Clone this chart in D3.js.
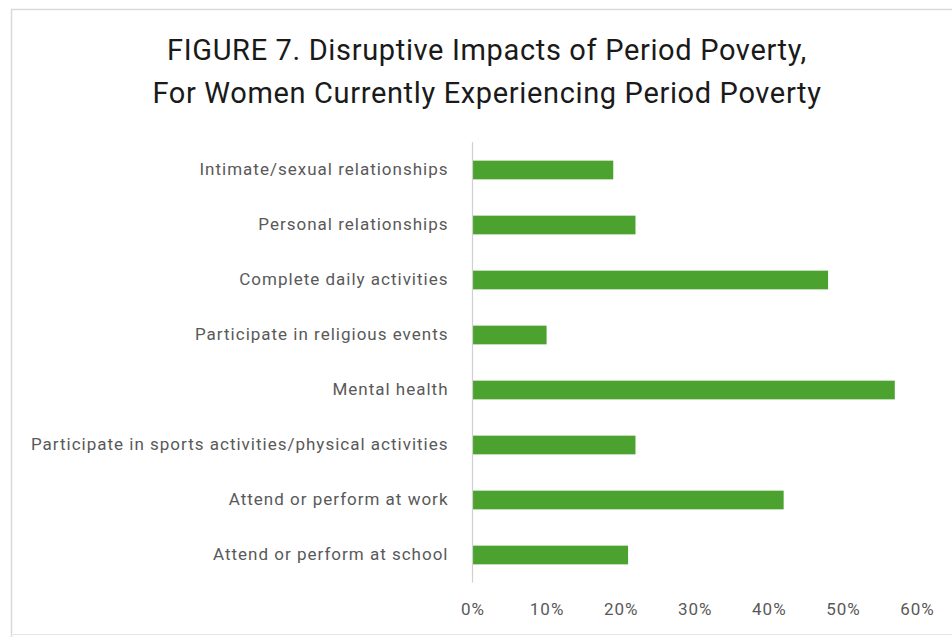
<!DOCTYPE html>
<html><head><meta charset="utf-8">
<script src="https://cdn.jsdelivr.net/npm/d3@7"></script>
<style>html,body{margin:0;padding:0;background:#fff;}</style>
</head><body>
<svg id="chart" width="952" height="637"></svg>
<script>
const categories = [
  "Intimate/sexual relationships",
  "Personal relationships",
  "Complete daily activities",
  "Participate in religious events",
  "Mental health",
  "Participate in sports activities/physical activities",
  "Attend or perform at work",
  "Attend or perform at school"
];
const values = [0.19, 0.22, 0.48, 0.10, 0.57, 0.22, 0.42, 0.21];
const tickValues = [0, 0.1, 0.2, 0.3, 0.4, 0.5, 0.6];
const titleLines = ["FIGURE 7. Disruptive Impacts of Period Poverty,", "For Women Currently Experiencing Period Poverty"];

const svg = d3.select("#chart");
// frame
svg.append("path").attr("d","M11.5,637 V9.5 H952").attr("fill","none").attr("stroke","#d9d9d9").attr("stroke-width",1.5);
svg.append("line").attr("x1",11).attr("x2",952).attr("y1",634.5).attr("y2",634.5).attr("stroke","#e6e6e6");

const x = d3.scaleLinear().domain([0,0.6]).range([472.5, 917]);
const y = d3.scaleBand().domain(categories).range([142.5, 582.5]).paddingInner(0.66).paddingOuter(0.33);

const title = svg.append("text").attr("text-anchor","middle").attr("fill","#1a1a1a")
  .style("font-family","'Roboto',sans-serif").style("font-size","29px").style("letter-spacing","0.65px");
titleLines.forEach((t,i)=> title.append("tspan").attr("x",487).attr("y",60 + i*43).text(t));

svg.selectAll("rect.bar").data(categories).enter().append("rect")
  .attr("class","bar")
  .attr("x", x(0))
  .attr("y", d=>y(d))
  .attr("height", y.bandwidth())
  .attr("width", (d,i)=> x(values[i]) - x(0))
  .attr("fill","#4ba22f");

// y axis line
svg.append("line").attr("x1",472.5).attr("x2",472.5).attr("y1",142).attr("y2",582.5).attr("stroke","#d0d0d0").attr("stroke-width",1.2);

const yAxis = svg.append("g").attr("transform","translate(472.5,0)")
  .call(d3.axisLeft(y).tickSize(0).tickPadding(24));
yAxis.select(".domain").remove();
yAxis.selectAll("text").attr("fill","#595959").attr("dy","0.3em")
  .style("font-family","'Roboto',sans-serif").style("font-size","17px").style("letter-spacing","1px");

const xAxis = svg.append("g").attr("transform","translate(0,598)")
  .call(d3.axisBottom(x).tickValues(tickValues).tickFormat(d3.format(".0%")).tickSize(0).tickPadding(5));
xAxis.select(".domain").remove();
xAxis.selectAll("text").attr("fill","#595959")
  .style("font-family","'Roboto',sans-serif").style("font-size","17px").style("letter-spacing","1px");
</script>
</body></html>
